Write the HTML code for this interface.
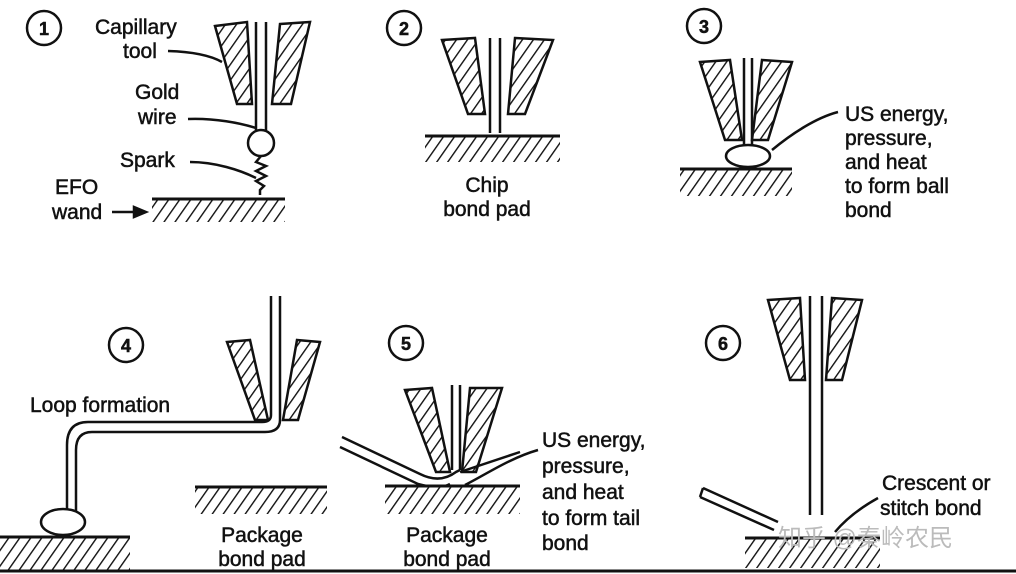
<!DOCTYPE html>
<html><head><meta charset="utf-8"><style>
html,body{margin:0;padding:0;background:#fff;width:1016px;height:574px;overflow:hidden}
svg text{font-family:"Liberation Sans","Noto Sans CJK SC",sans-serif;font-size:21px;fill:#111;stroke:#111;stroke-width:0.5}
</style></head><body>
<svg width="1016" height="574" viewBox="0 0 1016 574" xmlns="http://www.w3.org/2000/svg">
<defs>
<pattern id="h" patternUnits="userSpaceOnUse" width="9" height="9" patternTransform="rotate(35)">
<rect width="9" height="9" fill="#fff"/><line x1="0" y1="0" x2="0" y2="9" stroke="#111" stroke-width="2.8"/>
</pattern>
</defs>
<g stroke="#111" stroke-width="2.5" fill="none">
<!-- Panel 1 -->
<circle cx="44" cy="28" r="17"/>
<polygon points="215,26 247,22 252,104 237,104" fill="url(#h)"/>
<polygon points="280,24 310,22 291,104 272,104" fill="url(#h)"/>
<line x1="256" y1="22" x2="256" y2="130"/><line x1="266" y1="22" x2="266" y2="130"/>
<circle cx="261" cy="143" r="13" fill="#fff"/>
<polyline points="261,156 256,162 266,166 256,171 266,176 256,181 264,186 260,190 260,195"/>
<rect x="152" y="199" width="133" height="23" fill="url(#h)" stroke="none"/>
<line x1="152" y1="199" x2="285" y2="199" stroke-width="3"/>
<path d="M168,51 C200,52 215,58 222,62"/>
<path d="M188,119 C215,118 240,123 256,128"/>
<path d="M190,162 C215,162 240,170 256,178"/>
<line x1="112" y1="212" x2="138" y2="212"/><polygon points="146,212 134,207 134,217" fill="#111"/>
<!-- Panel 2 -->
<circle cx="404" cy="28" r="17"/>
<polygon points="442,40 475,38 485,114 468,114" fill="url(#h)"/>
<polygon points="515,38 553,40 525,114 508,114" fill="url(#h)"/>
<line x1="490" y1="38" x2="490" y2="133"/><line x1="500" y1="38" x2="500" y2="133"/>
<rect x="425" y="136" width="135" height="26" fill="url(#h)" stroke="none"/>
<line x1="425" y1="136" x2="560" y2="136" stroke-width="3"/>
<!-- Panel 3 -->
<circle cx="704" cy="26" r="17"/>
<polygon points="700,62 730,60 742,140 725,140" fill="url(#h)"/>
<polygon points="762,60 792,62 768,140 752,140" fill="url(#h)"/>
<line x1="744" y1="58" x2="744" y2="145"/><line x1="752" y1="58" x2="752" y2="145"/>
<ellipse cx="748" cy="156" rx="22" ry="11" fill="#fff"/>
<rect x="680" y="169" width="112" height="27" fill="url(#h)" stroke="none"/>
<line x1="680" y1="169" x2="792" y2="169" stroke-width="3"/>
<path d="M838,112 C815,118 790,135 772,150"/>
<!-- Panel 4 -->
<circle cx="126" cy="345" r="17"/>
<polygon points="227,342 250,340 268,420 255,420" fill="url(#h)"/>
<polygon points="297,340 320,342 298,420 283,420" fill="url(#h)"/>
<path d="M271,296 V415 Q271,422 262,422 H88 Q67,422 67,445 V512"/>
<path d="M280,296 V420 Q280,432 265,432 H92 Q76,432 76,450 V512"/>
<ellipse cx="63" cy="522" rx="22" ry="13" fill="#fff"/>
<rect x="0" y="537" width="130" height="33" fill="url(#h)" stroke="none"/>
<line x1="0" y1="537" x2="130" y2="537" stroke-width="3"/>
<rect x="195" y="487" width="132" height="27" fill="url(#h)" stroke="none"/>
<line x1="195" y1="487" x2="327" y2="487" stroke-width="3"/>
<!-- Panel 5 -->
<circle cx="406" cy="343" r="17"/>
<polygon points="405,390 432,388 450,472 436,472" fill="url(#h)"/>
<polygon points="470,388 502,388 476,472 462,472" fill="url(#h)"/>
<line x1="452" y1="385" x2="452" y2="470"/><line x1="460" y1="385" x2="460" y2="470"/>
<path d="M342,437 L420,474 Q440,484 456,472 L460,470"/>
<path d="M340,447 L418,484 Q440,490 450,484"/>
<path d="M460,472 L520,452"/>
<path d="M538,450 C510,458 485,475 465,485"/>
<rect x="385" y="486" width="135" height="28" fill="url(#h)" stroke="none"/>
<line x1="385" y1="486" x2="520" y2="486" stroke-width="3"/>
<!-- Panel 6 -->
<circle cx="723" cy="343" r="17"/>
<polygon points="768,300 800,298 805,380 790,380" fill="url(#h)"/>
<polygon points="832,298 862,300 842,380 826,380" fill="url(#h)"/>
<line x1="810" y1="296" x2="810" y2="515"/><line x1="822" y1="296" x2="822" y2="515"/>
<path d="M703,488 L778,522 M700,497 L774,530 M703,488 L700,497"/>
<path d="M878,498 C860,508 845,520 835,532"/>
<rect x="745" y="538" width="135" height="30" fill="url(#h)" stroke="none"/>
<line x1="745" y1="538" x2="880" y2="538" stroke-width="3"/>
<line x1="0" y1="571" x2="1016" y2="571" stroke-width="3"/>
</g>
<g font-weight="bold">
<text x="44" y="35" text-anchor="middle" style="font-size:18px">1</text>
<text x="404" y="35" text-anchor="middle" style="font-size:18px">2</text>
<text x="704" y="33" text-anchor="middle" style="font-size:18px">3</text>
<text x="126" y="352" text-anchor="middle" style="font-size:18px">4</text>
<text x="406" y="350" text-anchor="middle" style="font-size:18px">5</text>
<text x="723" y="350" text-anchor="middle" style="font-size:18px">6</text>
</g>
<text x="95" y="34">Capillary</text><text x="123" y="58">tool</text>
<text x="135" y="99">Gold</text><text x="138" y="124">wire</text>
<text x="120" y="167">Spark</text>
<text x="55" y="194">EFO</text><text x="52" y="219">wand</text>
<text x="487" y="192" text-anchor="middle">Chip</text><text x="487" y="216" text-anchor="middle">bond pad</text>
<text x="845" y="121">US energy,</text><text x="845" y="145">pressure,</text><text x="845" y="169">and heat</text><text x="845" y="193">to form ball</text><text x="845" y="217">bond</text>
<text x="30" y="412">Loop formation</text>
<text x="262" y="542" text-anchor="middle">Package</text><text x="262" y="566" text-anchor="middle">bond pad</text>
<text x="447" y="542" text-anchor="middle">Package</text><text x="447" y="566" text-anchor="middle">bond pad</text>
<text x="542" y="447">US energy,</text><text x="542" y="473">pressure,</text><text x="542" y="499">and heat</text><text x="542" y="525">to form tail</text><text x="542" y="550">bond</text>
<text x="882" y="490">Crescent or</text><text x="880" y="515">stitch bond</text>
<text x="778" y="546" style="font-size:24px;fill:#bbb;stroke:none">知乎 @秦岭农民</text>
</svg>
</body></html>
